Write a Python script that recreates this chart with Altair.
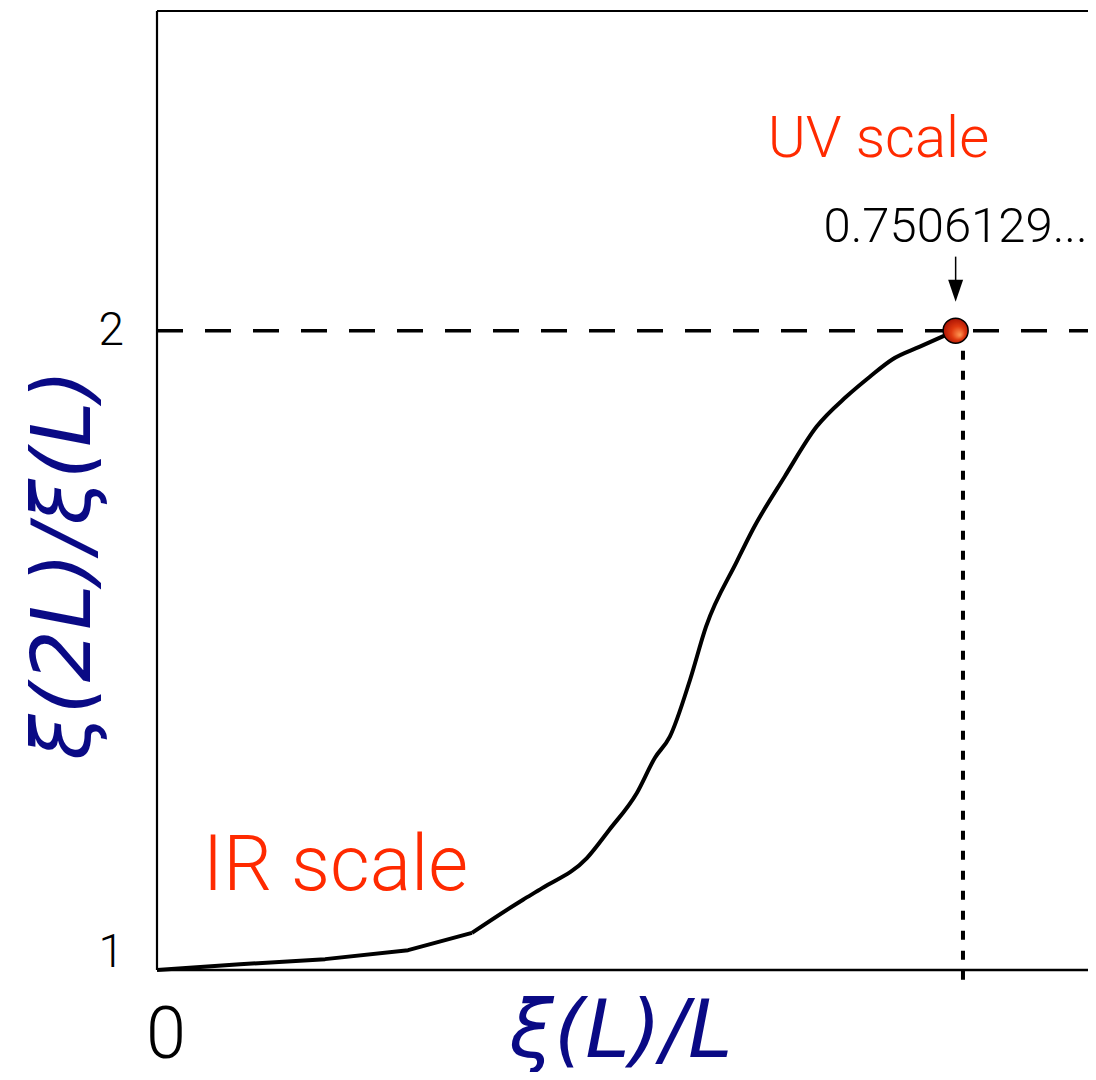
import altair as alt
import pandas as pd

# curve data
xi_over_L = [0.0, 0.078, 0.158, 0.236, 0.296, 0.344, 0.362, 0.404, 0.425, 0.451, 0.468,
             0.482, 0.501, 0.516, 0.545, 0.560, 0.590, 0.620, 0.648, 0.670, 0.691, 0.717, 0.7506]
ratio = [1.0, 1.009, 1.017, 1.031, 1.058, 1.110, 1.128, 1.175, 1.219, 1.277, 1.332,
         1.365, 1.454, 1.537, 1.639, 1.689, 1.772, 1.850, 1.897, 1.928, 1.955, 1.975, 2.0]
smooth_from = 0.296  # the low end of the curve is drawn with straight segments

fixed_x = [0.7506]
fixed_y = [2.0]
fixed_label = ["0.7506129..."]

x_domain = [0, 0.875]
y_domain = [1, 2.5]

ytick_vals = [1, 2]
ytick_text = ["1", "2"]
xtick_vals = [0]
xtick_text = ["0"]

x_title = "ξ(L)/L"
y_title = "ξ(2L)/ξ(L)"

NAVY = "#0a0a85"
RED = "#ff2a00"
FONT = "Roboto"
TFONT = "DejaVu Sans"

curve_df = pd.DataFrame({"x": xi_over_L, "y": ratio})
pt_df = pd.DataFrame({"x": fixed_x, "y": fixed_y, "label": fixed_label})

xs = alt.Scale(domain=x_domain, nice=False, zero=False)
ys = alt.Scale(domain=y_domain, nice=False, zero=False)


def X(f):
    return alt.X(f, scale=xs, axis=None)


def Y(f):
    return alt.Y(f, scale=ys, axis=None)


curve_low = alt.Chart(curve_df).transform_filter(alt.datum.x <= smooth_from).mark_line(
    color="black", strokeWidth=4, interpolate="linear", strokeJoin="round"
).encode(x=X("x:Q"), y=Y("y:Q"))
curve_high = alt.Chart(curve_df).transform_filter(alt.datum.x >= smooth_from).mark_line(
    color="black", strokeWidth=4, interpolate="monotone", strokeJoin="round"
).encode(x=X("x:Q"), y=Y("y:Q"))

# frame lines: left, bottom, top
frame_df = pd.DataFrame({
    "x": [x_domain[0], x_domain[0], x_domain[0]],
    "x2": [x_domain[0], x_domain[1], x_domain[1]],
    "y": [y_domain[0], y_domain[0], y_domain[1]],
    "y2": [y_domain[1], y_domain[0], y_domain[1]],
    "w": [2.2, 2.6, 2.2],
})
frame = alt.Chart(frame_df).mark_rule(color="black").encode(
    x=X("x:Q"), x2="x2:Q", y=Y("y:Q"), y2="y2:Q",
    strokeWidth=alt.StrokeWidth("w:Q", scale=None, legend=None))

# dashed horizontal at y=2
h_df = pd.DataFrame({"x": [x_domain[0]], "x2": [x_domain[1]], "y": fixed_y})
h_line = alt.Chart(h_df).mark_rule(color="black", strokeWidth=3.5, strokeDash=[26, 22]).encode(
    x=X("x:Q"), x2="x2:Q", y=Y("y:Q"))

# dotted vertical
v_df = pd.DataFrame({"x": [0.7575], "y": [2.0], "y2": [0.969]})
v_line = alt.Chart(v_df).mark_rule(color="black", strokeWidth=4, strokeDash=[9, 11]).encode(
    x=X("x:Q"), y=Y("y:Q"), y2="y2:Q")

# red ball
grad = alt.RadialGradient(
    gradient="radial",
    stops=[alt.GradientStop(offset=0, color="#ff9a55"),
           alt.GradientStop(offset=0.45, color="#e03a10"),
           alt.GradientStop(offset=1, color="#9a0800")],
    x1=0.68, y1=0.68, r1=0, x2=0.5, y2=0.5, r2=0.6)
dot = alt.Chart(pt_df).mark_point(shape="circle", filled=True, fill=grad, stroke="black",
                                  strokeWidth=1.5, size=625, opacity=1).encode(
    x=X("x:Q"), y=Y("y:Q"))

# arrow above ball
arr_df = pd.DataFrame({"x": fixed_x, "y": [2.1158], "y2": [2.075], "tip": [2.0626]})
arrow_line = alt.Chart(arr_df).mark_rule(color="black", strokeWidth=1.5).encode(
    x=X("x:Q"), y=Y("y:Q"), y2="y2:Q")
arrow_head = alt.Chart(arr_df).mark_point(shape="M-0.68,-1L0.68,-1L0,1Z", filled=True,
                                          color="black", size=484, opacity=1).encode(
    x=X("x:Q"), y=Y("tip:Q"))

value_label = alt.Chart(pt_df).mark_text(font=FONT, fontSize=49, fontWeight=300, color="black",
                                         align="center", baseline="alphabetic", dy=-89).encode(
    x=X("x:Q"), y=Y("y:Q"), text="label:N")

# annotations
uv_df = pd.DataFrame({"x": [0.678], "y": [2.271], "t": ["UV scale"]})
ir_df = pd.DataFrame({"x": [0.043], "y": [1.125], "t": ["IR scale"]})
uv = alt.Chart(uv_df).mark_text(font=FONT, fontSize=58, fontWeight=300, color=RED,
                                align="center", baseline="alphabetic").encode(
    x=X("x:Q"), y=Y("y:Q"), text="t:N")
ir = alt.Chart(ir_df).mark_text(font=FONT, fontSize=77, fontWeight=300, color=RED,
                                align="left", baseline="alphabetic").encode(
    x=X("x:Q"), y=Y("y:Q"), text="t:N")

# tick labels
yt_df = pd.DataFrame({"x": [0, 0], "y": ytick_vals, "t": ytick_text})
ylab2 = alt.Chart(yt_df.iloc[[1]]).mark_text(font=FONT, fontSize=46, fontWeight=300, color="black",
                                              align="right", baseline="middle", dx=-33).encode(
    x=X("x:Q"), y=Y("y:Q"), text="t:N")
ylab1 = alt.Chart(yt_df.iloc[[0]]).mark_text(font=FONT, fontSize=46, fontWeight=300, color="black",
                                              align="right", baseline="alphabetic", dx=-33, dy=-3).encode(
    x=X("x:Q"), y=Y("y:Q"), text="t:N")
xt_df = pd.DataFrame({"x": xtick_vals, "y": [1], "t": xtick_text})
xlab = alt.Chart(xt_df).mark_text(font=FONT, fontSize=72, fontWeight=300, color="black",
                                  align="center", baseline="alphabetic", dx=9, dy=88).encode(
    x=X("x:Q"), y=Y("y:Q"), text="t:N")

# axis titles
xt_title_df = pd.DataFrame({"x": [0.436], "y": [1.0], "t": [x_title]})
yt_title_df = pd.DataFrame({"x": [-0.0865], "y": [1.634], "t": [y_title]})
xtitle = alt.Chart(xt_title_df).mark_text(font=TFONT, fontStyle="italic", fontSize=80,
                                          fontWeight=400, color=NAVY, align="center",
                                          baseline="alphabetic", dy=87).encode(
    x=X("x:Q"), y=Y("y:Q"), text="t:N")
ytitle = alt.Chart(yt_title_df).mark_text(font=TFONT, fontStyle="italic", fontSize=82,
                                          fontWeight=400, color=NAVY, align="center",
                                          baseline="middle", angle=270).encode(
    x=X("x:Q"), y=Y("y:Q"), text="t:N")

chart = alt.layer(
    curve_low, curve_high, frame, v_line, h_line, dot, arrow_line, arrow_head, value_label,
    uv, ir, ylab2, ylab1, xlab, xtitle, ytitle
).properties(
    width=931, height=959,
    autosize=alt.AutoSizeParams(type="none"),
    padding={"left": 149, "top": 3, "right": 0, "bottom": 102},
    background="white",
).configure_view(stroke=None)

chart.save("out.html", embed_options={"renderer": "svg", "actions": False})
